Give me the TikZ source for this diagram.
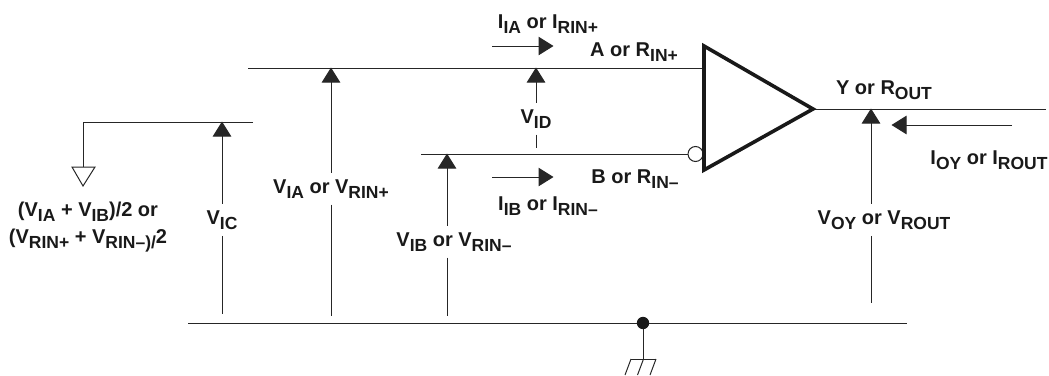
\documentclass[tikz,border=0pt]{standalone}
\usepackage{fontspec}
\setmainfont{Liberation Sans}
\usetikzlibrary{arrows.meta}
\newcommand{\lowsub}[1]{\raisebox{-0.25em}{\fontsize{17.5}{18}\selectfont #1}}
\tikzset{
  wire/.style={draw=black!85, line width=1pt},
  sense/.style={wire, -{Triangle[length=15pt,width=18.5pt]}, shorten >=-0.5pt},
  tag/.style={font=\fontsize{20}{27}\selectfont\bfseries, text=black!90, anchor=base, inner xsep=0pt, inner ysep=6.5pt, align=center, yshift=-1pt}
}
\begin{document}
\begin{tikzpicture}[x=1pt,y=-1pt]
  \useasboundingbox (0,0) rectangle (1049,375);
  % every wire end
  \foreach \name/\px/\py in {ampT/704/46, ampB/704/170, ampY/813/109,
      inA/248/68, inAend/704/68, inB/421/154, inBend/688/154, outEnd/1046/109,
      comL/253/122, comC/83/122, comD/83/167, comDl/72/167, comDr/95/167, comDt/83/186,
      gndL/188/323, gndR/907/323, gndM/643/323, gndH/643/359, hatchL/631/359, hatchR/656/359,
      tipIC/222/122, endIC/222/314, tipIA/331/68, endIA/331/316,
      tipID/536/68, endID/536/148, tipIB/447/154, endIB/447/316,
      tipOY/871/109, endOY/871/303,
      iaS/492/46, iaE/553/46, ibS/492/177, ibE/553/177, oyS/1012/125, oyE/892/125}
    \coordinate (\name) at (\px,\py);

  % labels
  \node[tag] (lblIin) at (548,27) {I\lowsub{IA} or I\lowsub{RIN+}};
  \node[tag] (lblA) at (634,55) {A or R\lowsub{IN+}};
  \node[tag] (lblID) at (536,122) {V\lowsub{ID}};
  \node[tag] (lblB) at (635,182) {B or R\lowsub{IN--}};
  \node[tag] (lblIib) at (548,209) {I\lowsub{IB} or I\lowsub{RIN--}};
  \node[tag] (lblY) at (884,93) {Y or R\lowsub{OUT}};
  \node[tag] (lblIoy) at (989,163) {I\lowsub{OY} or I\lowsub{ROUT}};
  \node[tag] (lblOY) at (884,223) {V\lowsub{OY} or V\lowsub{ROUT}};
  \node[tag] (lblIA) at (331,192) {V\lowsub{IA} or V\lowsub{RIN+}};
  \node[tag] (lblIC) at (222,223) {V\lowsub{IC}};
  \node[tag] (lblIB) at (454,245) {V\lowsub{IB} or V\lowsub{RIN--}};
  \node[tag, anchor=center] (lblCom) at (88,226) {(V\lowsub{IA} + V\lowsub{IB})/2 or\\(V\lowsub{RIN+} + V\lowsub{RIN--)/}2};

  % wires
  \draw[wire] (inA) -- (inAend);
  \draw[wire] (inB) -- (inBend);
  \draw[wire] (ampY) -- (outEnd);
  \draw[wire] (comL) -- (comC) -- (comD);
  \draw[wire, fill=white] (comDl) -- (comDr) -- (comDt) -- cycle;
  \draw[wire] (gndL) -- (gndR);
  \draw[wire] (gndM) -- (gndH);
  \draw[wire] (hatchL) -- (hatchR);
  \foreach \s in {0,1,2}
    \draw[wire] ({631+12.5*\s},359) -- ({625+12.5*\s},375);
  \fill[black!90] (gndM) circle (6.2);
  \node[circle, draw=black!85, line width=1pt, fill=white, minimum size=15pt, inner sep=0pt] (bubble) at (695.5,154) {};

  % amplifier
  \draw[line width=3.6pt, draw=black!90, miter limit=10] (ampT) -- (ampY) -- (ampB) -- cycle;

  % voltage arrows, broken by their labels
  \foreach \tip/\foot/\lbl in {tipIC/endIC/lblIC, tipIA/endIA/lblIA, tipID/endID/lblID, tipIB/endIB/lblIB, tipOY/endOY/lblOY}
  {
    \draw[sense] (\tip |- \lbl.north) -- (\tip);
    \draw[wire] (\tip |- \lbl.south) -- (\foot);
  }

  % current arrows
  \foreach \from/\to in {iaS/iaE, ibS/ibE, oyS/oyE}
    \draw[sense] (\from) -- (\to);
\end{tikzpicture}
\end{document}
